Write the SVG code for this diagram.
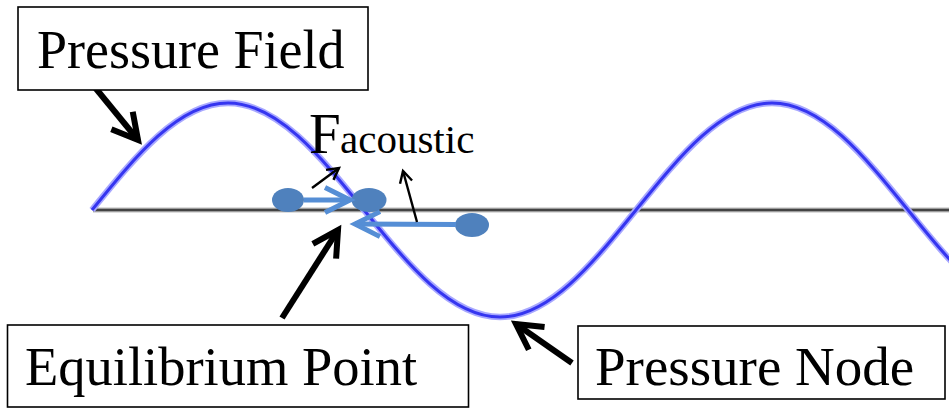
<svg xmlns="http://www.w3.org/2000/svg" width="949" height="408" viewBox="0 0 949 408">
<defs>
<style>
.box{fill:#fff;stroke:#000;stroke-width:1.6}
.lbl{fill:#000}
.blk{fill:none;stroke:#000;stroke-width:6}
.thin{fill:none;stroke:#000;stroke-width:2.4}
.blu{fill:none;stroke:#558ed5;stroke-width:5}
.dot{fill:#4f81bd}
</style>
<marker id="hb" markerUnits="strokeWidth" orient="auto" overflow="visible" refX="0" refY="0">
<path d="M-4.2,-2.3 L0,0 L-4.2,2.3" fill="none" stroke="#000" stroke-width="1"/>
</marker>
<marker id="ht" markerUnits="strokeWidth" orient="auto" overflow="visible" refX="0" refY="0">
<path d="M-4.8,-2.6 L0,0 L-4.8,2.6" fill="none" stroke="#000" stroke-width="1"/>
</marker>
<marker id="hu" markerUnits="strokeWidth" orient="auto" overflow="visible" refX="0" refY="0">
<path d="M-5,-2.5 L0,0 L-5,2.5" fill="none" stroke="#558ed5" stroke-width="1"/>
</marker>
</defs>
<rect width="949" height="408" fill="#fff"/>
<g id="axis">
<line x1="93" y1="210" x2="949" y2="210" stroke="#bbb" stroke-width="5"/>
<line x1="93" y1="210" x2="949" y2="210" stroke="#444" stroke-width="2.5"/>
</g>
<g id="wave">
<path d="M92,210 C136.35,155.2 178.78,103 228,103 C277.22,103 319.65,155.2 364,210 C408.35,264.8 450.78,317 500,317 C549.22,317 591.65,264.8 636,210 C680.35,155.2 722.78,103 772,103 C821.22,103 863.65,155.2 908,210 C952.35,264.8 994.78,317 1044,317" fill="none" stroke="#a8a8ff" stroke-width="6.5"/>
<path d="M92,210 C136.35,155.2 178.78,103 228,103 C277.22,103 319.65,155.2 364,210 C408.35,264.8 450.78,317 500,317 C549.22,317 591.65,264.8 636,210 C680.35,155.2 722.78,103 772,103 C821.22,103 863.65,155.2 908,210 C952.35,264.8 994.78,317 1044,317" fill="none" stroke="#3535f0" stroke-width="3"/>
</g>
<g id="particles">
<ellipse class="dot" cx="288" cy="200" rx="16" ry="12"/>
<ellipse class="dot" cx="369" cy="200" rx="17.5" ry="12"/>
<ellipse class="dot" cx="472" cy="225" rx="17" ry="12"/>
</g>
<g id="connectors">
<line class="blu" x1="304" y1="200" x2="350" y2="200" marker-end="url(#hu)"/>
<line class="blu" x1="456" y1="224.5" x2="355" y2="224" marker-end="url(#hu)"/>
<line class="thin" x1="312" y1="188" x2="339" y2="168" marker-end="url(#ht)"/>
<line class="thin" x1="417" y1="222" x2="403" y2="171" marker-end="url(#ht)"/>
<line class="blk" x1="93" y1="85" x2="138" y2="140" marker-end="url(#hb)"/>
<line class="blk" x1="282" y1="318" x2="338" y2="230" marker-end="url(#hb)"/>
<line class="blk" x1="572" y1="363" x2="516" y2="324" marker-end="url(#hb)"/>
</g>
<g id="pressure-field">
<rect class="box" x="18" y="7" width="350" height="83"/>
<text class="lbl" x="37" y="68" style="font-family:'Liberation Serif','Times New Roman',serif" font-size="54">Pressure Field</text>
</g>
<g id="f-acoustic">
<text class="lbl" x="309" y="153" style="font-family:'Liberation Serif','Times New Roman',serif" font-size="57">F</text>
<text class="lbl" x="340" y="153" style="font-family:'Liberation Serif','Times New Roman',serif" font-size="41">acoustic</text>
</g>
<g id="equilibrium-point">
<rect class="box" x="7.5" y="325" width="461" height="82"/>
<text class="lbl" x="25" y="385" style="font-family:'Liberation Serif','Times New Roman',serif" font-size="54.5">Equilibrium Point</text>
</g>
<g id="pressure-node">
<rect class="box" x="578" y="326" width="367" height="73"/>
<text class="lbl" x="595" y="385" style="font-family:'Liberation Serif','Times New Roman',serif" font-size="55">Pressure Node</text>
</g>
</svg>
